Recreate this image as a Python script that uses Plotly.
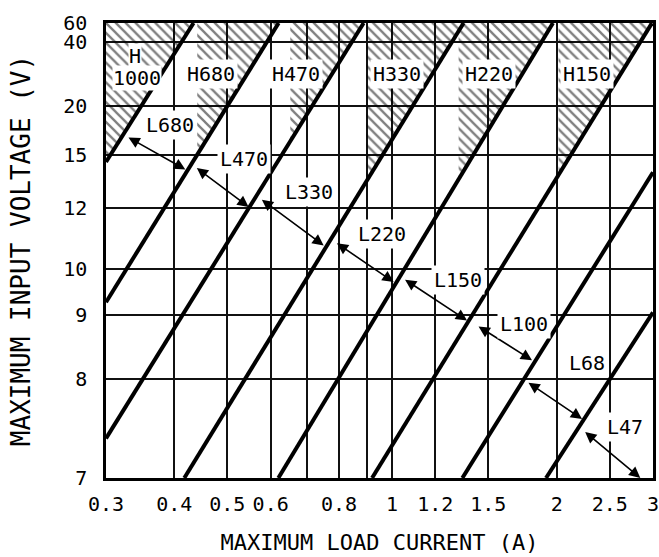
import numpy as np
import plotly.graph_objects as go

# ---------------- data ----------------
current_ticks = [0.3, 0.4, 0.5, 0.6, 0.7, 0.8, 0.9, 1, 1.2, 1.5, 2, 2.5, 3]
current_ticktext = ["0.3", "0.4", "0.5", "0.6", "", "0.8", "", "1", "1.2", "1.5", "2", "2.5", "3"]
voltage_ticks = [7, 8, 9, 10, 12, 15, 20, 40, 60]
voltage_ticktext = ["7", "8", "9", "10", "12", "15", "20", "40", "60"]

# boundary lines between inductor regions: (current, voltage) start -> end
line_i0 = [0.3, 0.3, 0.3, 0.4171, 0.6197, 0.9194, 1.3444, 1.912]
line_v0 = [14.48, 9.25, 7.345, 7, 7, 7, 7, 7]
line_i1 = [0.4337, 0.6205, 0.8874, 1.3517, 1.9691, 2.987, 3.0, 3.0]
line_v1 = [60, 60, 60, 60, 60, 60, 13.82, 9.05]

# hatched (H-core) areas
hatch_i = [[0.3, 0.3, 0.4337], [0.4405, 0.4405, 0.6205], [0.6518, 0.6518, 0.8874],
           [0.8976, 0.8976, 1.3517], [1.3236, 1.3236, 1.9691], [2.016, 2.016, 2.987]]
hatch_v = [[60, 14.48, 60], [60, 15.0, 60], [60, 16.10, 60],
           [60, 13.29, 60], [60, 13.41, 60], [60, 13.67, 60]]

# double-headed arrows
arrow_i0 = [0.3277, 0.4369, 0.5745, 0.7879, 1.0498, 1.4304, 1.7651, 2.2406]
arrow_v0 = [16.49, 14.15, 12.43, 10.77, 9.77, 8.81, 7.97, 7.42]
arrow_i1 = [0.4189, 0.5469, 0.7500, 1.0068, 1.3712, 1.8026, 2.2256, 2.844]
arrow_v1 = [13.99, 12.06, 10.67, 9.69, 8.90, 8.26, 7.54, 7.0]

# region labels
region_labels = ["H", "1000", "H680", "H470", "H330", "H220", "H150",
                 "L680", "L470", "L330", "L220", "L150", "L100", "L68", "L47"]
label_i = [0.3393, 0.3423, 0.4673, 0.6685, 1.0205, 1.5061, 2.2710,
           0.3932, 0.5371, 0.7060, 0.9601, 1.3219, 1.7452, 2.2710, 2.6641]
label_v = [32.6, 25.4, 26.55, 26.55, 26.55, 26.55, 26.55,
           17.67, 14.70, 12.75, 11.04, 9.73, 8.84, 8.22, 7.46]


# Y scale of the chart: log of the volt-microsecond product (1 - Vout/Vin)
def vscale(v):
    return np.log10(1 - 4.6 / np.asarray(v, dtype=float))


FONT = "DejaVu Sans Mono"

fig = go.Figure()

# hatched regions
for hi, hv in zip(hatch_i, hatch_v):
    fig.add_trace(go.Scatter(
        x=hi, y=vscale(hv), mode="lines", fill="toself",
        line=dict(width=0, color="rgba(0,0,0,0)"),
        fillcolor="rgba(0,0,0,0)",
        fillpattern=dict(shape="\\", fgcolor="black", bgcolor="rgba(0,0,0,0)",
                         size=7, solidity=0.33),
        hoverinfo="skip", showlegend=False))

# boundary lines
for a, b, c, d in zip(line_i0, line_v0, line_i1, line_v1):
    fig.add_trace(go.Scatter(
        x=[a, c], y=vscale([b, d]), mode="lines",
        line=dict(color="black", width=4),
        hoverinfo="skip", showlegend=False))

annotations = []
for a, b, c, d in zip(arrow_i0, arrow_v0, arrow_i1, arrow_v1):
    annotations.append(dict(
        x=float(np.log10(c)), y=float(vscale(d)),
        ax=float(np.log10(a)), ay=float(vscale(b)),
        xref="x", yref="y", axref="x", ayref="y",
        text="", showarrow=True, arrowhead=2, arrowside="end+start",
        arrowsize=1.4, arrowwidth=1.6, arrowcolor="black", standoff=0, startstandoff=0))

for txt, a, b in zip(region_labels, label_i, label_v):
    annotations.append(dict(
        x=float(np.log10(a)), y=float(vscale(b)), xref="x", yref="y",
        text=txt, showarrow=False, bgcolor="white", borderpad=0 if txt in ("H", "1000") else 2,
        font=dict(family=FONT, size=20, color="black")))

fig.update_layout(
    width=659, height=557,
    margin=dict(l=106, r=6, t=23, b=79),
    paper_bgcolor="white", plot_bgcolor="white",
    font=dict(family=FONT, size=20, color="black"),
    showlegend=False,
    annotations=annotations,
)

fig.update_xaxes(
    type="log", range=[np.log10(0.3), np.log10(3)], automargin=False,
    tickmode="array", tickvals=current_ticks, ticktext=current_ticktext,
    ticklabeloverflow="allow",
    showgrid=True, gridcolor="#111111", gridwidth=1.5,
    showline=True, linecolor="black", linewidth=2.5, mirror=True,
    ticks="", ticklabelstandoff=6, zeroline=False,
    tickfont=dict(family=FONT, size=20),
    title=dict(text="MAXIMUM LOAD CURRENT (A)", standoff=20,
               font=dict(family=FONT, size=22)),
)

fig.update_yaxes(
    range=[float(vscale(7)), float(vscale(60))], automargin=False,
    tickmode="array", tickvals=list(vscale(voltage_ticks)), ticktext=voltage_ticktext,
    ticklabeloverflow="allow",
    showgrid=True, gridcolor="#111111", gridwidth=1.5,
    showline=True, linecolor="black", linewidth=2.5, mirror=True,
    ticks="", ticklabelstandoff=12, zeroline=False,
    tickfont=dict(family=FONT, size=20),
    title=dict(text="MAXIMUM INPUT VOLTAGE (V)", standoff=26,
               font=dict(family=FONT, size=26)),
)

# remove the browser's default page margin so the figure fills the window exactly
fig.write_html("out.html", config={"displayModeBar": False},
               post_script="document.body.style.margin='0';document.body.style.overflow='hidden';")
